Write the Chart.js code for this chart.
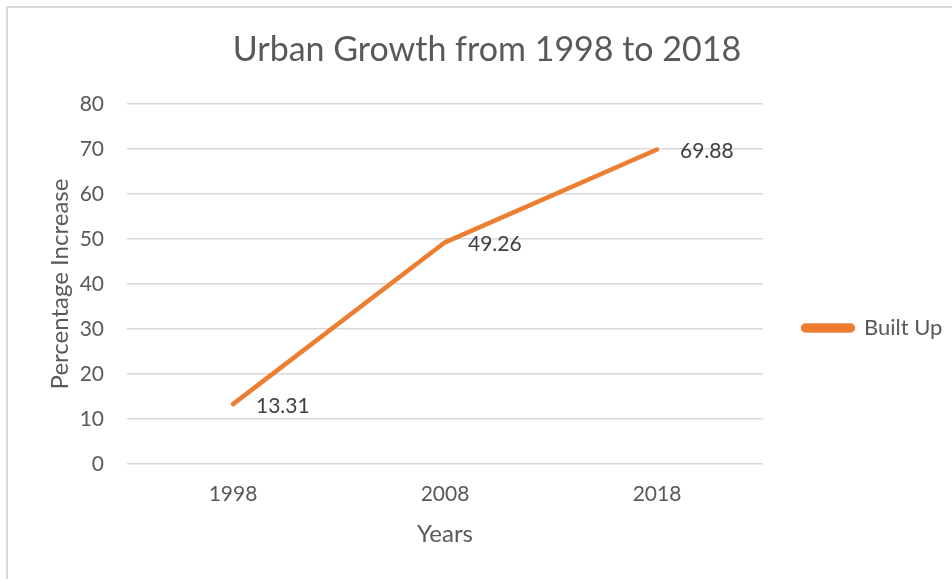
<!DOCTYPE html>
<html>
<head>
<meta charset="utf-8">
<script src="https://cdn.jsdelivr.net/npm/chart.js@4"></script>
<style>
  html, body { margin: 0; padding: 0; background: #fff; overflow: hidden; }
  #frame {
    position: absolute; left: 6px; top: 6px;
    border: 2px solid #dadada;
    background: #fff;
  }
  #box { position: relative; width: 960px; height: 640px; }
</style>
</head>
<body>
<div id="frame"><div id="box"><canvas id="chart"></canvas></div></div>
<script>
const chartTitle = 'Urban Growth from 1998 to 2018';
const years = ['1998', '2008', '2018'];
const builtUp = [13.31, 49.26, 69.88];
const yTickValues = [0, 10, 20, 30, 40, 50, 60, 70, 80];
const seriesName = 'Built Up';

const textColor = '#595959';
const lineColor = '#ED7D31';
const gridColor = '#d9d9d9';
const fontFamily = 'Lato, "Open Sans", sans-serif';

// where the plot area should sit inside the (cropped) chart box
const plotLeft = 119;
const plotRight = 755;
let padRight = 12;
let yAxisWidth = 109;

// values written just right of each point, like Excel data labels
const pointLabels = {
  id: 'pointLabels',
  afterDatasetsDraw(chart) {
    const ctx = chart.ctx;
    const meta = chart.getDatasetMeta(0);
    ctx.save();
    ctx.font = `21px ${fontFamily}`;
    ctx.fillStyle = '#404040';
    ctx.textAlign = 'left';
    ctx.textBaseline = 'middle';
    meta.data.forEach((pt, i) => {
      ctx.fillText(builtUp[i].toFixed(2), pt.x + 23, pt.y + 2);
    });
    ctx.restore();
  }
};

const chart = new Chart(document.getElementById('chart'), {
  type: 'line',
  data: {
    labels: years,
    datasets: [{
      label: seriesName,
      data: builtUp,
      borderColor: lineColor,
      backgroundColor: lineColor,
      borderWidth: 4.5,
      borderCapStyle: 'round',
      borderJoinStyle: 'round',
      pointRadius: 0,
      pointHoverRadius: 0,
      tension: 0
    }]
  },
  plugins: [pointLabels],
  options: {
    responsive: true,
    maintainAspectRatio: false,
    animation: false,
    layout: { padding: { left: padRight - 2, right: padRight, top: 0, bottom: 0 } },
    plugins: {
      title: {
        display: true,
        text: chartTitle,
        color: textColor,
        font: { family: fontFamily, size: 34, weight: 'normal' },
        padding: { top: 21.6, bottom: 33.6 }
      },
      legend: {
        position: 'right',
        labels: {
          color: textColor,
          font: { family: fontFamily, size: 22 },
          boxWidth: 50,
          boxHeight: 5,
          padding: 40,
          useBorderRadius: true,
          borderRadius: 2.5
        }
      },
      tooltip: { enabled: false }
    },
    scales: {
      x: {
        offset: true,
        afterFit: s => { s.height = 184; },
        grid: { display: false, drawTicks: false },
        border: { display: false },
        ticks: {
          color: textColor,
          font: { family: fontFamily, size: 21 },
          padding: 18
        },
        title: {
          display: true,
          text: 'Years',
          color: textColor,
          font: { family: fontFamily, size: 24 },
          padding: { top: 0, bottom: 99 }
        }
      },
      y: {
        min: 0,
        max: 80,
        afterFit: s => { s.width = yAxisWidth; },
        afterBuildTicks: s => { s.ticks = yTickValues.map(v => ({ value: v })); },
        grid: { color: gridColor, lineWidth: 1.5, drawTicks: false },
        border: { display: false },
        ticks: {
          color: textColor,
          font: { family: fontFamily, size: 21 },
          padding: 23
        },
        title: {
          display: true,
          text: 'Percentage Increase',
          color: textColor,
          font: { family: fontFamily, size: 24 },
          padding: { top: 52 - (padRight - 2) - 14.4, bottom: 0 }
        }
      }
    }
  }
});

// the legend width depends on the text, so nudge the side paddings until
// the plot's right edge lands where the reference has it
for (let i = 0; i < 3; i++) {
  padRight += chart.chartArea.right - plotRight;
  const padLeft = padRight - 2;
  yAxisWidth = plotLeft - padLeft;
  chart.options.layout.padding.left = padLeft;
  chart.options.layout.padding.right = padRight;
  chart.options.scales.y.title.padding.top = 52 - padLeft - 14.4;
  chart.update();
}
</script>
</body>
</html>
